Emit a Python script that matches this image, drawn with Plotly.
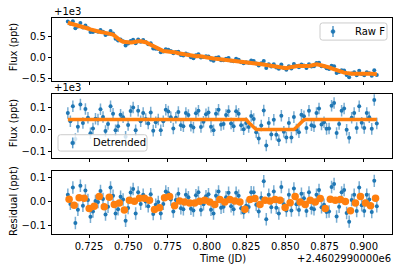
import plotly.graph_objects as go

# ---------------- data ----------------
TIME = [
    0.7115, 0.7131, 0.7147, 0.7163, 0.7179, 0.7195, 0.7211, 0.7227, 0.7243, 0.7259,
    0.7275, 0.7291, 0.7307, 0.7323, 0.7339, 0.7355, 0.7371, 0.7387, 0.7403, 0.7419,
    0.7435, 0.7451, 0.7467, 0.7483, 0.7499, 0.7515, 0.7531, 0.7547, 0.7563, 0.7579,
    0.7595, 0.7611, 0.7627, 0.7643, 0.7659, 0.7675, 0.7691, 0.7707, 0.7723, 0.7739,
    0.7755, 0.7771, 0.7787, 0.7803, 0.7819, 0.7835, 0.7851, 0.7867, 0.7883, 0.7899,
    0.7915, 0.7931, 0.7947, 0.7963, 0.7979, 0.7995, 0.8011, 0.8027, 0.8043, 0.8059,
    0.8075, 0.8091, 0.8107, 0.8123, 0.8139, 0.8155, 0.8171, 0.8187, 0.8203, 0.8219,
    0.8235, 0.8251, 0.8267, 0.8283, 0.8299, 0.8315, 0.8331, 0.8347, 0.8363, 0.8379,
    0.8395, 0.8411, 0.8427, 0.8443, 0.8459, 0.8475, 0.8491, 0.8507, 0.8523, 0.8539,
    0.8555, 0.8571, 0.8587, 0.8603, 0.8619, 0.8635, 0.8651, 0.8667, 0.8683, 0.8699,
    0.8715, 0.8731, 0.8747, 0.8763, 0.8779, 0.8795, 0.8811, 0.8827, 0.8843, 0.8859,
    0.8875, 0.8891, 0.8907, 0.8923, 0.8939, 0.8955, 0.8971, 0.8987, 0.9003, 0.9019,
    0.9035, 0.9051, 0.9067, 0.9083,
]

# full model (trend + transit) shown in the top panel, relative to +1e3
TOP_MODEL = [
    0.815, 0.800, 0.790, 0.777, 0.760, 0.740, 0.720, 0.700, 0.680, 0.660,
    0.640, 0.620, 0.606, 0.600, 0.590, 0.580, 0.575, 0.560, 0.540, 0.490,
    0.430, 0.400, 0.370, 0.360, 0.355, 0.350, 0.360, 0.380, 0.380, 0.380,
    0.380, 0.360, 0.330, 0.300, 0.260, 0.220, 0.200, 0.170, 0.150, 0.148,
    0.145, 0.142, 0.140, 0.120, 0.100, 0.087, 0.075, 0.063, 0.050, 0.035,
    0.020, 0.028, 0.036, 0.035, 0.020, 0.005, -0.010, -0.020, -0.025, -0.030,
    -0.037, -0.040, -0.044, -0.048, -0.052, -0.055, -0.060, -0.068, -0.076, -0.083,
    -0.090, -0.094, -0.100, -0.110, -0.120, -0.130, -0.145, -0.155, -0.165, -0.175,
    -0.185, -0.190, -0.200, -0.210, -0.218, -0.225, -0.238, -0.250, -0.235, -0.220,
    -0.205, -0.190, -0.195, -0.200, -0.205, -0.210, -0.200, -0.187, -0.173, -0.160,
    -0.170, -0.180, -0.190, -0.210, -0.230, -0.255, -0.280, -0.300, -0.320, -0.340,
    -0.355, -0.365, -0.378, -0.380, -0.378, -0.375, -0.372, -0.372, -0.375, -0.378,
    -0.380, -0.383, -0.386, -0.390,
]

# transit model shown in the middle panel, relative to +1e3
TRANSIT_MODEL = [
    0.045, 0.045, 0.045, 0.045, 0.045, 0.045, 0.045, 0.045, 0.045, 0.045,
    0.045, 0.045, 0.045, 0.045, 0.045, 0.045, 0.045, 0.045, 0.045, 0.045,
    0.045, 0.045, 0.045, 0.045, 0.045, 0.045, 0.045, 0.045, 0.045, 0.045,
    0.045, 0.045, 0.045, 0.045, 0.045, 0.045, 0.045, 0.045, 0.045, 0.045,
    0.045, 0.045, 0.045, 0.045, 0.045, 0.045, 0.045, 0.045, 0.045, 0.045,
    0.045, 0.045, 0.045, 0.045, 0.045, 0.045, 0.045, 0.045, 0.045, 0.045,
    0.045, 0.045, 0.045, 0.045, 0.045, 0.045, 0.045, 0.045, 0.045, 0.045,
    0.045, 0.045, 0.032, 0.020, 0.008, 0.000, 0.000, 0.000, 0.000, 0.000,
    0.000, 0.000, 0.000, 0.000, 0.000, 0.000, 0.000, 0.000, 0.000, 0.000,
    0.000, 0.010, 0.022, 0.033, 0.044, 0.045, 0.045, 0.045, 0.045, 0.045,
    0.045, 0.045, 0.045, 0.045, 0.045, 0.045, 0.045, 0.045, 0.045, 0.045,
    0.045, 0.045, 0.045, 0.045, 0.045, 0.045, 0.045, 0.045, 0.045, 0.045,
    0.045, 0.045, 0.045, 0.045,
]

RESIDUAL = [
    0.030, -0.008, 0.060, -0.088, -0.032, 0.068, -0.016, 0.048, 0.008, -0.062,
    -0.040, 0.004, 0.000, 0.046, 0.012, -0.052, -0.020, 0.060, 0.026, -0.048,
    -0.030, 0.022, 0.010, -0.078, -0.025, 0.039, 0.054, -0.048, 0.040, -0.008,
    0.030, 0.002, -0.018, 0.032, -0.050, -0.012, 0.000, -0.048, -0.008, 0.044,
    0.036, 0.010, -0.040, 0.008, 0.034, -0.026, -0.030, 0.030, 0.020, -0.028,
    -0.036, 0.028, 0.040, -0.034, -0.010, 0.024, 0.032, -0.032, -0.048, 0.026,
    0.044, -0.024, -0.020, 0.020, 0.038, -0.018, -0.030, 0.038, 0.026, -0.026,
    -0.044, -0.016, -0.021, 0.041, 0.040, -0.012, -0.040, 0.018, 0.086, -0.072,
    0.030, -0.022, 0.044, -0.024, -0.048, 0.062, -0.010, -0.036, 0.030, -0.036,
    0.056, -0.010, -0.034, 0.034, 0.016, -0.038, 0.040, -0.026, -0.030, 0.030,
    0.050, -0.022, -0.012, -0.042, -0.040, 0.062, 0.075, -0.061, -0.020, 0.040,
    0.050, -0.046, -0.082, 0.008, 0.030, -0.038, 0.060, -0.014, -0.038, 0.030,
    0.010, -0.042, 0.088, -0.018,
]

BIN_TIME = [
    0.7123, 0.7155, 0.7187, 0.7219, 0.7251, 0.7283, 0.7315, 0.7347, 0.7379, 0.7411,
    0.7443, 0.7475, 0.7507, 0.7539, 0.7571, 0.7603, 0.7635, 0.7667, 0.7699, 0.7731,
    0.7763, 0.7795, 0.7827, 0.7859, 0.7891, 0.7923, 0.7955, 0.7987, 0.8019, 0.8051,
    0.8083, 0.8115, 0.8147, 0.8179, 0.8211, 0.8243, 0.8275, 0.8307, 0.8339, 0.8371,
    0.8403, 0.8435, 0.8467, 0.8499, 0.8531, 0.8563, 0.8595, 0.8627, 0.8659, 0.8691,
    0.8723, 0.8755, 0.8787, 0.8819, 0.8851, 0.8883, 0.8915, 0.8947, 0.8979, 0.9011,
    0.9043, 0.9075,
]

BIN_RESIDUAL = [
    0.011, -0.014, 0.018, 0.016, -0.027, -0.018, 0.023, -0.020, 0.020, -0.011,
    -0.004, -0.034, 0.007, 0.003, 0.016, 0.016, 0.007, -0.031, -0.024, 0.018,
    0.023, -0.016, 0.004, 0.000, -0.004, -0.004, 0.003, 0.007, 0.000, -0.011,
    0.010, 0.000, 0.010, 0.004, 0.000, -0.030, 0.010, 0.014, -0.011, 0.007,
    0.004, 0.010, 0.007, -0.023, -0.003, 0.023, 0.000, -0.011, 0.007, 0.000,
    0.014, -0.027, 0.011, 0.007, 0.010, 0.002, -0.037, -0.004, 0.023, -0.004,
    -0.016, 0.016,
]

FLUX_ERR = 0.026

SERIES_NAMES = ["Raw F", "Detrended"]

X_TICKS = [0.725, 0.750, 0.775, 0.800, 0.825, 0.850, 0.875, 0.900]
X_TICK_TEXT = ["0.725", "0.750", "0.775", "0.800", "0.825", "0.850", "0.875", "0.900"]
Y1_TICKS = [-0.5, 0.0, 0.5]
Y1_TICK_TEXT = ["\u22120.5", "0.0", "0.5"]
Y2_TICKS = [-0.1, 0.0, 0.1]
Y2_TICK_TEXT = ["\u22120.1", "0.0", "0.1"]

# derived series
RAW_FLUX = [m + r for m, r in zip(TOP_MODEL, RESIDUAL)]
DETRENDED = [m + r for m, r in zip(TRANSIT_MODEL, RESIDUAL)]

# ---------------- figure ----------------
W, H = 399, 276
BLUE = "#1f77b4"
ORANGE = "#ff7f0e"
FONT = "DejaVu Sans"


def px_x(x):
    return x / W


def px_y(y):
    return 1 - y / H


err = dict(type="constant", value=FLUX_ERR, color="rgba(31,119,180,0.6)",
           thickness=1.5, width=0)

fig = go.Figure()
fig.add_trace(go.Scatter(x=TIME, y=RAW_FLUX, mode="markers", name=SERIES_NAMES[0],
                         marker=dict(color=BLUE, size=4), error_y=err,
                         showlegend=False, xaxis="x", yaxis="y"))
fig.add_trace(go.Scatter(x=TIME, y=TOP_MODEL, mode="lines", showlegend=False,
                         line=dict(color=ORANGE, width=4), xaxis="x", yaxis="y"))
fig.add_trace(go.Scatter(x=TIME, y=DETRENDED, mode="markers", name=SERIES_NAMES[1],
                         marker=dict(color=BLUE, size=4), error_y=err,
                         showlegend=False, xaxis="x2", yaxis="y2"))
fig.add_trace(go.Scatter(x=TIME, y=TRANSIT_MODEL, mode="lines", showlegend=False,
                         line=dict(color=ORANGE, width=3.5), xaxis="x2", yaxis="y2"))
fig.add_trace(go.Scatter(x=TIME, y=RESIDUAL, mode="markers", showlegend=False,
                         marker=dict(color=BLUE, size=4), error_y=err,
                         xaxis="x3", yaxis="y3"))
fig.add_trace(go.Scatter(x=BIN_TIME, y=BIN_RESIDUAL, mode="markers", showlegend=False,
                         marker=dict(color=ORANGE, size=7.5), xaxis="x3", yaxis="y3"))

axis_common = dict(showline=True, linecolor="black", linewidth=1, mirror=True,
                   ticks="outside", ticklen=3.5, tickwidth=1, tickcolor="black",
                   showgrid=False, zeroline=False,
                   tickfont=dict(family=FONT, size=10, color="black"))

x_dom = [px_x(52.3), px_x(391.7)]
x_rng = [0.7016, 0.9178]

fig.update_layout(
    width=W, height=H, margin=dict(l=0, r=0, t=0, b=0),
    paper_bgcolor="white", plot_bgcolor="white", showlegend=False,
    font=dict(family=FONT, size=10, color="black"),
    xaxis=dict(domain=x_dom, range=x_rng, anchor="y", tickvals=X_TICKS,
               showticklabels=False, **axis_common),
    xaxis2=dict(domain=x_dom, range=x_rng, anchor="y2", matches="x", tickvals=X_TICKS,
                showticklabels=False, **axis_common),
    xaxis3=dict(domain=x_dom, range=x_rng, anchor="y3", matches="x", tickvals=X_TICKS,
                ticktext=X_TICK_TEXT, **axis_common),
    yaxis=dict(domain=[px_y(82), px_y(18.3)], range=[-0.546, 0.926], anchor="x",
               tickvals=Y1_TICKS, ticktext=Y1_TICK_TEXT, **axis_common),
    yaxis2=dict(domain=[px_y(160), px_y(95)], range=[-0.127, 0.162], anchor="x2",
                tickvals=Y2_TICKS, ticktext=Y2_TICK_TEXT, **axis_common),
    yaxis3=dict(domain=[px_y(237.3), px_y(173.3)], range=[-0.133, 0.130], anchor="x3",
                tickvals=Y2_TICKS, ticktext=Y2_TICK_TEXT, **axis_common),
)

ann_font = dict(family=FONT, size=10, color="black")
annotations = [
    dict(text="+1e3", x=px_x(52), y=px_y(11.5), xanchor="left", yanchor="middle"),
    dict(text="+1e3", x=px_x(52), y=px_y(89), xanchor="left", yanchor="middle"),
    dict(text="Time (JD)", x=px_x(222), y=px_y(262.5), xanchor="center", yanchor="middle"),
    dict(text="+2.4602990000e6", x=px_x(392.5), y=px_y(262.5), xanchor="right",
         yanchor="middle"),
    dict(text="Flux (ppt)", x=px_x(13), y=px_y(48), textangle=-90,
         xanchor="center", yanchor="middle"),
    dict(text="Flux (ppt)", x=px_x(13), y=px_y(125), textangle=-90,
         xanchor="center", yanchor="middle"),
    dict(text="Residual (ppt)", x=px_x(13), y=px_y(204), textangle=-90,
         xanchor="center", yanchor="middle"),
]


# ---- matplotlib-style legend boxes (rounded frame, errorbar handle, label) ----
def rounded_rect_path(x0, y0, x1, y1, r):
    X0, X1 = px_x(x0), px_x(x1)
    Y0, Y1 = px_y(y0), px_y(y1)  # Y0 top, Y1 bottom (paper)
    rx, ry = r / W, r / H
    return (f"M {X0 + rx},{Y0} L {X1 - rx},{Y0} Q {X1},{Y0} {X1},{Y0 - ry} "
            f"L {X1},{Y1 + ry} Q {X1},{Y1} {X1 - rx},{Y1} "
            f"L {X0 + rx},{Y1} Q {X0},{Y1} {X0},{Y1 + ry} "
            f"L {X0},{Y0 - ry} Q {X0},{Y0} {X0 + rx},{Y0} Z")


legend_boxes = [
    # (label, box left, top, right, bottom, handle x, text x, centre y)
    (SERIES_NAMES[0], 320, 23.3, 387, 40.7, 333, 352.5, 32),
    (SERIES_NAMES[1], 58, 136.7, 147, 153.3, 72.7, 90.5, 145),
]
for label, bx0, by0, bx1, by1, hx, tx, cy in legend_boxes:
    fig.add_shape(type="path", xref="paper", yref="paper", layer="above",
                  path=rounded_rect_path(bx0, by0, bx1, by1, 2.5),
                  fillcolor="rgba(255,255,255,0.8)", line=dict(color="#cccccc", width=1))
    fig.add_shape(type="line", xref="paper", yref="paper", layer="above",
                  x0=px_x(hx), x1=px_x(hx), y0=px_y(cy - 5.5), y1=px_y(cy + 5.5),
                  line=dict(color="rgba(31,119,180,0.75)", width=1.5))
    fig.add_shape(type="circle", xref="paper", yref="paper", layer="above",
                  x0=px_x(hx - 2), x1=px_x(hx + 2), y0=px_y(cy + 2), y1=px_y(cy - 2),
                  fillcolor=BLUE, line=dict(color=BLUE, width=0.5))
    annotations.append(dict(text=label, x=px_x(tx), y=px_y(cy), xanchor="left",
                            yanchor="middle"))

for a in annotations:
    fig.add_annotation(xref="paper", yref="paper", showarrow=False, font=ann_font, **a)

fig.write_html("out.html",
               config={"displayModeBar": False},
               post_script="document.body.style.margin='0';"
                           "document.body.style.overflow='hidden';")
